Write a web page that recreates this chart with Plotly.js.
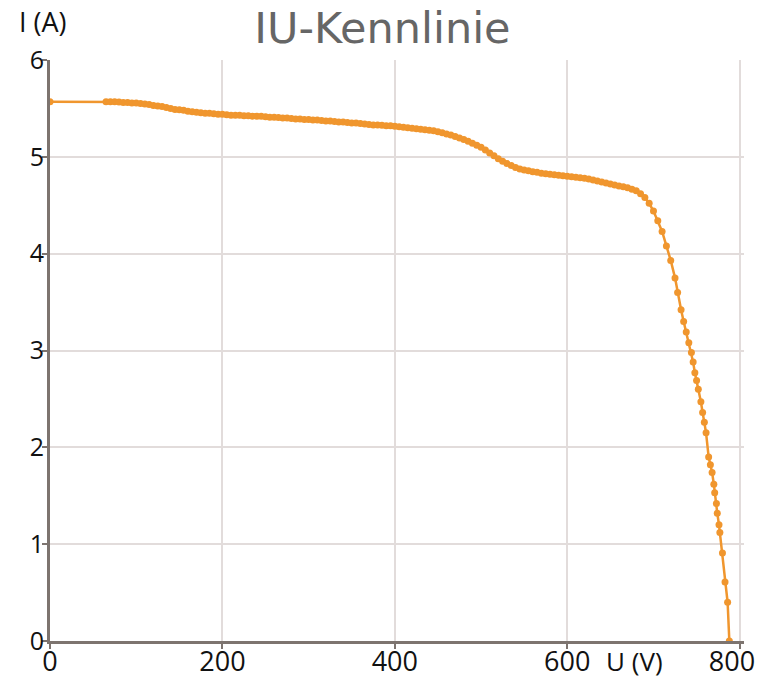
<!DOCTYPE html>
<html>
<head>
<meta charset="utf-8">
<script src="https://cdn.plot.ly/plotly-3.0.1.min.js"></script>
<style>html,body{margin:0;padding:0;background:#fff;}#chart{width:758px;height:679px;}</style>
</head>
<body>
<div id="chart"></div>
<script>
const chartTitle = "IU-Kennlinie";
const xLabel = "U (V)";
const yLabel = "I (A)";
const xTicks = [0, 200, 400, 600, 800];
const xTickText = ["0", "200", "400", "600", "800"];
const yTicks = [0, 1, 2, 3, 4, 5, 6];

const voltage = [
  0,
  65, 70, 75, 80, 85, 90, 95, 100, 105, 110, 115, 120, 125, 130, 135, 140, 145, 150,
  155, 160, 165, 170, 175, 180, 185, 190, 195, 200, 205, 210, 215, 220, 225, 230,
  235, 240, 245, 250, 255, 260, 265, 270, 275, 280, 285, 290, 295, 300, 305, 310,
  315, 320, 325, 330, 335, 340, 345, 350, 355, 360, 365, 370, 375, 380, 385, 390,
  395, 400, 405, 410, 415, 420, 425, 430, 435, 440, 445, 450, 455, 460, 465, 470,
  475, 480, 485, 490, 495, 500, 505, 510, 515, 520, 525, 530, 535, 540, 545, 550,
  555, 560, 565, 570, 575, 580, 585, 590, 595, 600, 605, 610, 615, 620, 625, 630,
  635, 640, 645, 650, 655, 660, 665, 670, 675, 680, 685, 690,
  695, 700, 705, 710, 715, 720, 725, 728, 732, 735, 738, 741, 744, 746, 748, 750,
  752, 755, 757, 759, 761, 764, 766, 768, 770, 771, 773, 774, 776, 777, 780, 783, 786, 788
];
const current = [
  5.57,
  5.57, 5.57, 5.57, 5.565, 5.56, 5.56, 5.555, 5.555, 5.55, 5.545, 5.54, 5.53, 5.525, 5.52, 5.51, 5.50, 5.49, 5.485,
  5.48, 5.47, 5.465, 5.46, 5.455, 5.45, 5.45, 5.445, 5.44, 5.44, 5.435, 5.43, 5.43, 5.43, 5.425, 5.425,
  5.42, 5.42, 5.42, 5.415, 5.41, 5.41, 5.405, 5.40, 5.40, 5.395, 5.39, 5.39, 5.385, 5.385, 5.38, 5.38,
  5.375, 5.37, 5.37, 5.365, 5.36, 5.36, 5.355, 5.35, 5.35, 5.345, 5.34, 5.335, 5.33, 5.33, 5.325, 5.32,
  5.32, 5.315, 5.31, 5.305, 5.30, 5.295, 5.29, 5.285, 5.28, 5.275, 5.27, 5.26, 5.25, 5.235, 5.225, 5.21,
  5.195, 5.18, 5.16, 5.14, 5.12, 5.10, 5.07, 5.04, 5.01, 4.98, 4.955, 4.93, 4.91, 4.89, 4.875, 4.865,
  4.855, 4.845, 4.84, 4.83, 4.825, 4.82, 4.815, 4.81, 4.805, 4.80, 4.795, 4.79, 4.785, 4.78, 4.77, 4.76,
  4.75, 4.74, 4.73, 4.72, 4.71, 4.70, 4.69, 4.68, 4.665, 4.65, 4.62, 4.58,
  4.52, 4.44, 4.34, 4.23, 4.08, 3.93, 3.75, 3.60, 3.42, 3.30, 3.19, 3.08, 2.98, 2.88, 2.77, 2.69,
  2.60, 2.47, 2.36, 2.26, 2.15, 1.90, 1.82, 1.74, 1.62, 1.53, 1.42, 1.32, 1.20, 1.12, 0.91, 0.61, 0.40, 0.0
];

const orange = "#f0962e";
const nTicks = xTicks.length;

const data = [
  {
    x: voltage,
    y: current,
    type: "scatter",
    mode: "lines+markers",
    line: {color: orange, width: 2.5},
    marker: {color: orange, size: 7},
    hoverinfo: "skip"
  },
  {
    x: [], y: [], type: "scatter", mode: "markers",
    xaxis: "x2", yaxis: "y", hoverinfo: "skip", showlegend: false
  }
];

const tickFontX = {size: 27, color: "#111"};

const layout = {
  width: 758,
  height: 679,
  margin: {l: 50, r: 14, t: 60, b: 38},
  paper_bgcolor: "#ffffff",
  plot_bgcolor: "#ffffff",
  showlegend: false,
  font: {family: "Open Sans, sans-serif", color: "#111"},
  title: {
    text: chartTitle,
    xref: "paper", x: 0.479, xanchor: "center",
    yref: "container", y: 0.959, yanchor: "middle",
    font: {family: "DejaVu Sans, sans-serif", size: 43, color: "#666"}
  },
  xaxis: {
    range: [0, 805],
    tickvals: xTicks,
    ticktext: xTickText.map((t, i) => i === nTicks - 1 ? "" : t),
    showgrid: true,
    gridcolor: "#e2dcdb",
    gridwidth: 2,
    zeroline: false,
    showline: true,
    linecolor: "#7d746f",
    linewidth: 3,
    ticks: "outside",
    ticklen: 5,
    tickcolor: "#7d746f",
    tickwidth: 2,
    ticklabelstandoff: -10,
    tickfont: tickFontX
  },
  xaxis2: {
    overlaying: "x",
    matches: "x",
    side: "bottom",
    anchor: "y",
    range: [0, 805],
    tickvals: xTicks.slice(nTicks - 1),
    ticktext: xTickText.slice(nTicks - 1),
    showgrid: false,
    zeroline: false,
    showline: false,
    ticks: "outside",
    ticklen: 5,
    tickcolor: "rgba(0,0,0,0)",
    ticklabelposition: "outside left",
    ticklabelshift: 16,
    ticklabelstandoff: -3,
    tickfont: tickFontX
  },
  yaxis: {
    range: [0, 6],
    tickvals: yTicks,
    ticktext: yTicks.map(String),
    showgrid: true,
    gridcolor: "#e2dcdb",
    gridwidth: 2,
    zeroline: false,
    showline: true,
    linecolor: "#7d746f",
    linewidth: 3,
    ticks: "outside",
    ticklen: 5,
    tickcolor: "#7d746f",
    tickwidth: 2,
    ticklabelstandoff: -7,
    tickfont: {size: 25, color: "#111"}
  },
  annotations: [
    {text: yLabel, xref: "paper", yref: "paper", x: -0.048, y: 1.066, xanchor: "left", yanchor: "middle",
     showarrow: false, font: {size: 27, color: "#111"}},
    {text: xLabel, xref: "paper", yref: "paper", x: 0.798, y: -0.035, xanchor: "left", yanchor: "middle",
     showarrow: false, font: {size: 26, color: "#111"}}
  ]
};

Plotly.newPlot("chart", data, layout, {displayModeBar: false, staticPlot: true});
</script>
</body>
</html>
